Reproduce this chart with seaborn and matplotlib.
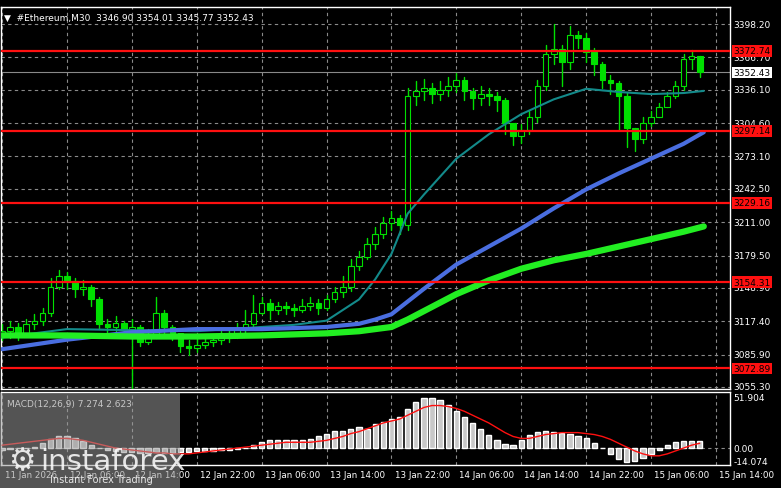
import numpy as np
import pandas as pd
import matplotlib
matplotlib.use("Agg")
import matplotlib.pyplot as plt
from matplotlib.patches import Rectangle
import seaborn as sns

sns.set_style("dark")
plt.rcParams['font.family'] = ['DejaVu Sans']

closes = [3108,3112,3106,3115,3118,3125,3150,3160,3155,3148,3150,3138,3115,3112,3116,3110,
          3112,3098,3105,3125,3112,3106,3094,3092,3095,3098,3100,3102,3104,3110,3115,3125,
          3135,3128,3132,3130,3128,3132,3135,3130,3138,3145,3150,3170,3178,3190,3200,3210,
          3215,3208,3330,3335,3338,3332,3336,3340,3345,3335,3328,3332,3330,3326,3305,3292,
          3298,3310,3340,3370,3375,3362,3388,3385,3372,3360,3345,3342,3330,3300,3290,3305,
          3310,3320,3330,3340,3365,3368,3352.43]
first_open = 3105
highs = [3115,3118,3116,3120,3124,3130,3158,3166,3164,3158,3156,3152,3140,3120,3122,3118,
         3120,3114,3110,3140,3128,3114,3104,3100,3101,3104,3105,3108,3110,3116,3128,3142,
         3140,3138,3136,3136,3134,3138,3140,3138,3142,3150,3160,3176,3184,3196,3206,3216,
         3222,3218,3338,3344,3346,3342,3344,3348,3352,3348,3338,3340,3338,3334,3328,3300,
         3304,3316,3345,3378,3398,3378,3396,3392,3390,3376,3362,3350,3344,3334,3300,3310,
         3316,3324,3334,3344,3370,3374,3368]
lows = [3100,3102,3100,3104,3110,3114,3122,3148,3148,3140,3142,3132,3110,3106,3108,3104,
        3050,3094,3096,3102,3104,3100,3088,3086,3088,3092,3094,3096,3098,3102,3106,3112,
        3124,3120,3124,3124,3122,3126,3128,3124,3128,3136,3140,3146,3166,3176,3186,3196,
        3204,3200,3204,3322,3326,3324,3326,3330,3334,3326,3318,3322,3322,3316,3294,3284,
        3286,3294,3306,3336,3360,3340,3356,3376,3362,3350,3338,3332,3298,3282,3278,3286,
        3302,3310,3320,3328,3336,3356,3348]

ma_x     = [0,8,16,24,32,36,40,44,46,48,50,52,56,60,64,68,72,76,80,84,86.5]
ma_teal  = [3102,3110,3109,3108,3112,3114,3118,3138,3157,3181,3219,3237,3271,3294,3313,3327,3337,3334,3332,3333,3335]
ma_blue  = [3091,3100,3107,3110,3110,3111,3112,3115,3119,3124,3136,3148,3171,3188,3205,3224,3242,3257,3271,3285,3296]
ma_green = [3104,3104,3103,3103,3104,3105,3106,3108,3110,3112,3119,3127,3143,3156,3167,3175,3181,3188,3195,3202,3207]

macd_hist = [-2,-1,0,0,1,5,9,12,13,10,7,3,0,-2,-3,-4,-4,-5,-5,-4,-5,-5,-4,-4,-3,-3,-3,-2,-2,-1,0,
             3,6,8,8,8,8,8,9,12,15,18,18,20,22,20,25,27,30,32,40,48,52,52,50,45,38,32,26,20,
             14,8,4,3,8,14,17,18,17,16,15,13,10,5,0,-6,-11,-14,-13,-10,-6,-2,3,6,7,7,7]
macd_signal = [3,4,5,6,7,8,9,10,10,9,8,6,4,2,0,-1,-2,-3,-4,-5,-5,-6,-6,-6,-5,-4,-3,-2,-1,0,1,
               2,3,4,5,6,6,6,6,7,8,10,12,15,17,20,23,26,28,30,34,38,42,44,44,43,41,38,34,30,
               26,21,16,12,10,10,12,14,15,16,16,16,15,14,12,9,5,1,-3,-6,-8,-8,-6,-3,0,3,5]

levels = [3372.74, 3297.14, 3229.16, 3154.31, 3072.89]
price_ticks = [3398.20,3366.70,3336.10,3304.60,3273.10,3242.50,3211.00,3179.50,3148.90,3117.40,3085.90,3055.30]
date_pos = [0,8,16,24,32,40,48,56,64,72,80,88]
date_labels = ["11 Jan 2026","12 Jan 06:00","12 Jan 14:00","12 Jan 22:00","13 Jan 06:00","13 Jan 14:00",
               "13 Jan 22:00","14 Jan 06:00","14 Jan 14:00","14 Jan 22:00","15 Jan 06:00","15 Jan 14:00"]

W, H = 781, 489
fig = plt.figure(figsize=(W/100, H/100), dpi=100, facecolor="black")
def rect(l, t, r, b):
    return [l/W, 1-b/H, (r-l)/W, (b-t)/H]
ax = fig.add_axes(rect(1, 8, 730, 390))
ax2 = fig.add_axes(rect(1, 393, 730, 466))
xlim = (-0.12, 89.73)
for a in (ax, ax2):
    a.set_facecolor("black")
    for s in a.spines.values():
        s.set_color("white"); s.set_linewidth(1)
    a.set_xlim(*xlim)
    a.set_xticks([])
    a.set_yticks([])
    for p in date_pos:
        a.axvline(p, color="#8a8a8a", ls=(0, (3, 3)), lw=0.8, zorder=0)

yhi = 3398.2 + (25-8)*0.945
ax.set_ylim(3055.3 - 2*0.945, yhi)
for t in price_ticks:
    ax.axhline(t, color="#8a8a8a", ls=(0, (3, 3)), lw=0.8, zorder=0)

opens = [first_open] + closes[:-1]
df = pd.DataFrame({"x": np.arange(len(closes)), "o": opens, "c": closes, "h": highs, "l": lows})
for _, r in df.iterrows():
    ax.plot([r.x, r.x], [r.l, r.h], color="#00e000", lw=1, zorder=3)
    lo, hi = min(r.o, r.c), max(r.o, r.c)
    up = r.c >= r.o
    ax.add_patch(Rectangle((r.x-0.35, lo), 0.7, max(hi-lo, 0.8),
                           facecolor="black" if up else "#00e000", edgecolor="#00e000", lw=0.8, zorder=4))

ma = pd.DataFrame({"x": ma_x, "teal": ma_teal, "blue": ma_blue, "green": ma_green})
sns.lineplot(data=ma, x="x", y="teal", ax=ax, color="#138a8a", lw=1.5, zorder=5)
sns.lineplot(data=ma, x="x", y="blue", ax=ax, color="#4a6ee0", lw=3, zorder=5)
sns.lineplot(data=ma, x="x", y="green", ax=ax, color="#22ee22", lw=4.5, zorder=5)
ax.set_xlabel(""); ax.set_ylabel("")
ax.set_xlim(*xlim)

for lv in levels:
    ax.axhline(lv, color="#ff1010", lw=1.6, zorder=6)
ax.axhline(closes[-1], color="#8a8a8a", lw=0.8, zorder=2)

trans = ax.get_yaxis_transform()
for t in price_ticks:
    ax.text(1.005, t, f"{t:.2f}", transform=trans, color="white", fontsize=6.5, va="center", ha="left", clip_on=False)
for lv in levels:
    ax.text(1.005, lv, f"{lv:.2f}", transform=trans, color="black", fontsize=6.5, va="center", ha="left",
            clip_on=False, bbox=dict(boxstyle="square,pad=0.15", fc="#ff1010", ec="none"))
ax.text(1.005, closes[-1], f"{closes[-1]:.2f}", transform=trans, color="black", fontsize=6.5, va="center", ha="left",
        clip_on=False, bbox=dict(boxstyle="square,pad=0.15", fc="white", ec="none"))
ax.text(0.004, 0.985, "▼  #Ethereum,M30  3346.90 3354.01 3345.77 3352.43", transform=ax.transAxes,
        color="white", fontsize=6.5, va="top")

ax2.set_ylim(-17.5, 58)
hx = np.arange(len(macd_hist))
ax2.bar(hx, macd_hist, width=0.65, color="#c8c8c8", zorder=3)
sns.lineplot(x=hx, y=macd_signal, ax=ax2, color="#ff1010", lw=1, zorder=4)
ax2.set_xlim(*xlim); ax2.set_yticks([]); ax2.set_xticks([])
ax2.axhline(0, color="#8a8a8a", ls=(0, (3, 3)), lw=0.8, zorder=0)
t2 = ax2.get_yaxis_transform()
for v, s in [(51.904, "51.904"), (0, "0.00"), (-14.074, "-14.074")]:
    ax2.text(1.005, v, s, transform=t2, color="white", fontsize=6.5, va="center", ha="left", clip_on=False)
ax2.text(0.008, 0.9, "MACD(12,26,9) 7.274 2.623", transform=ax2.transAxes, color="white", fontsize=6.5, va="top")

for p, lab in zip(date_pos, date_labels):
    fx = ax2.transData.transform((p, 0))[0] / W
    fig.text(fx + 0.004, 1 - 476/H, lab, color="white", fontsize=6.3, va="center", ha="left")

fig.patches.append(Rectangle((0, 0), 180/W, 95/H, transform=fig.transFigure,
                             facecolor="#9a9a9a", alpha=0.55, edgecolor="none", zorder=10))
fig.text(40/W, 1-462/H, "instaforex", color="white", fontsize=21, alpha=0.85, va="center", zorder=11)
fig.text(50/W, 1-480/H, "Instant Forex Trading", color="white", fontsize=7, alpha=0.85, va="center", zorder=11)
fig.text(8/W, 1-462/H, "⚙", color="white", fontsize=22, alpha=0.85, va="center", zorder=11)

fig.savefig("out.png", dpi=100, facecolor="black")
